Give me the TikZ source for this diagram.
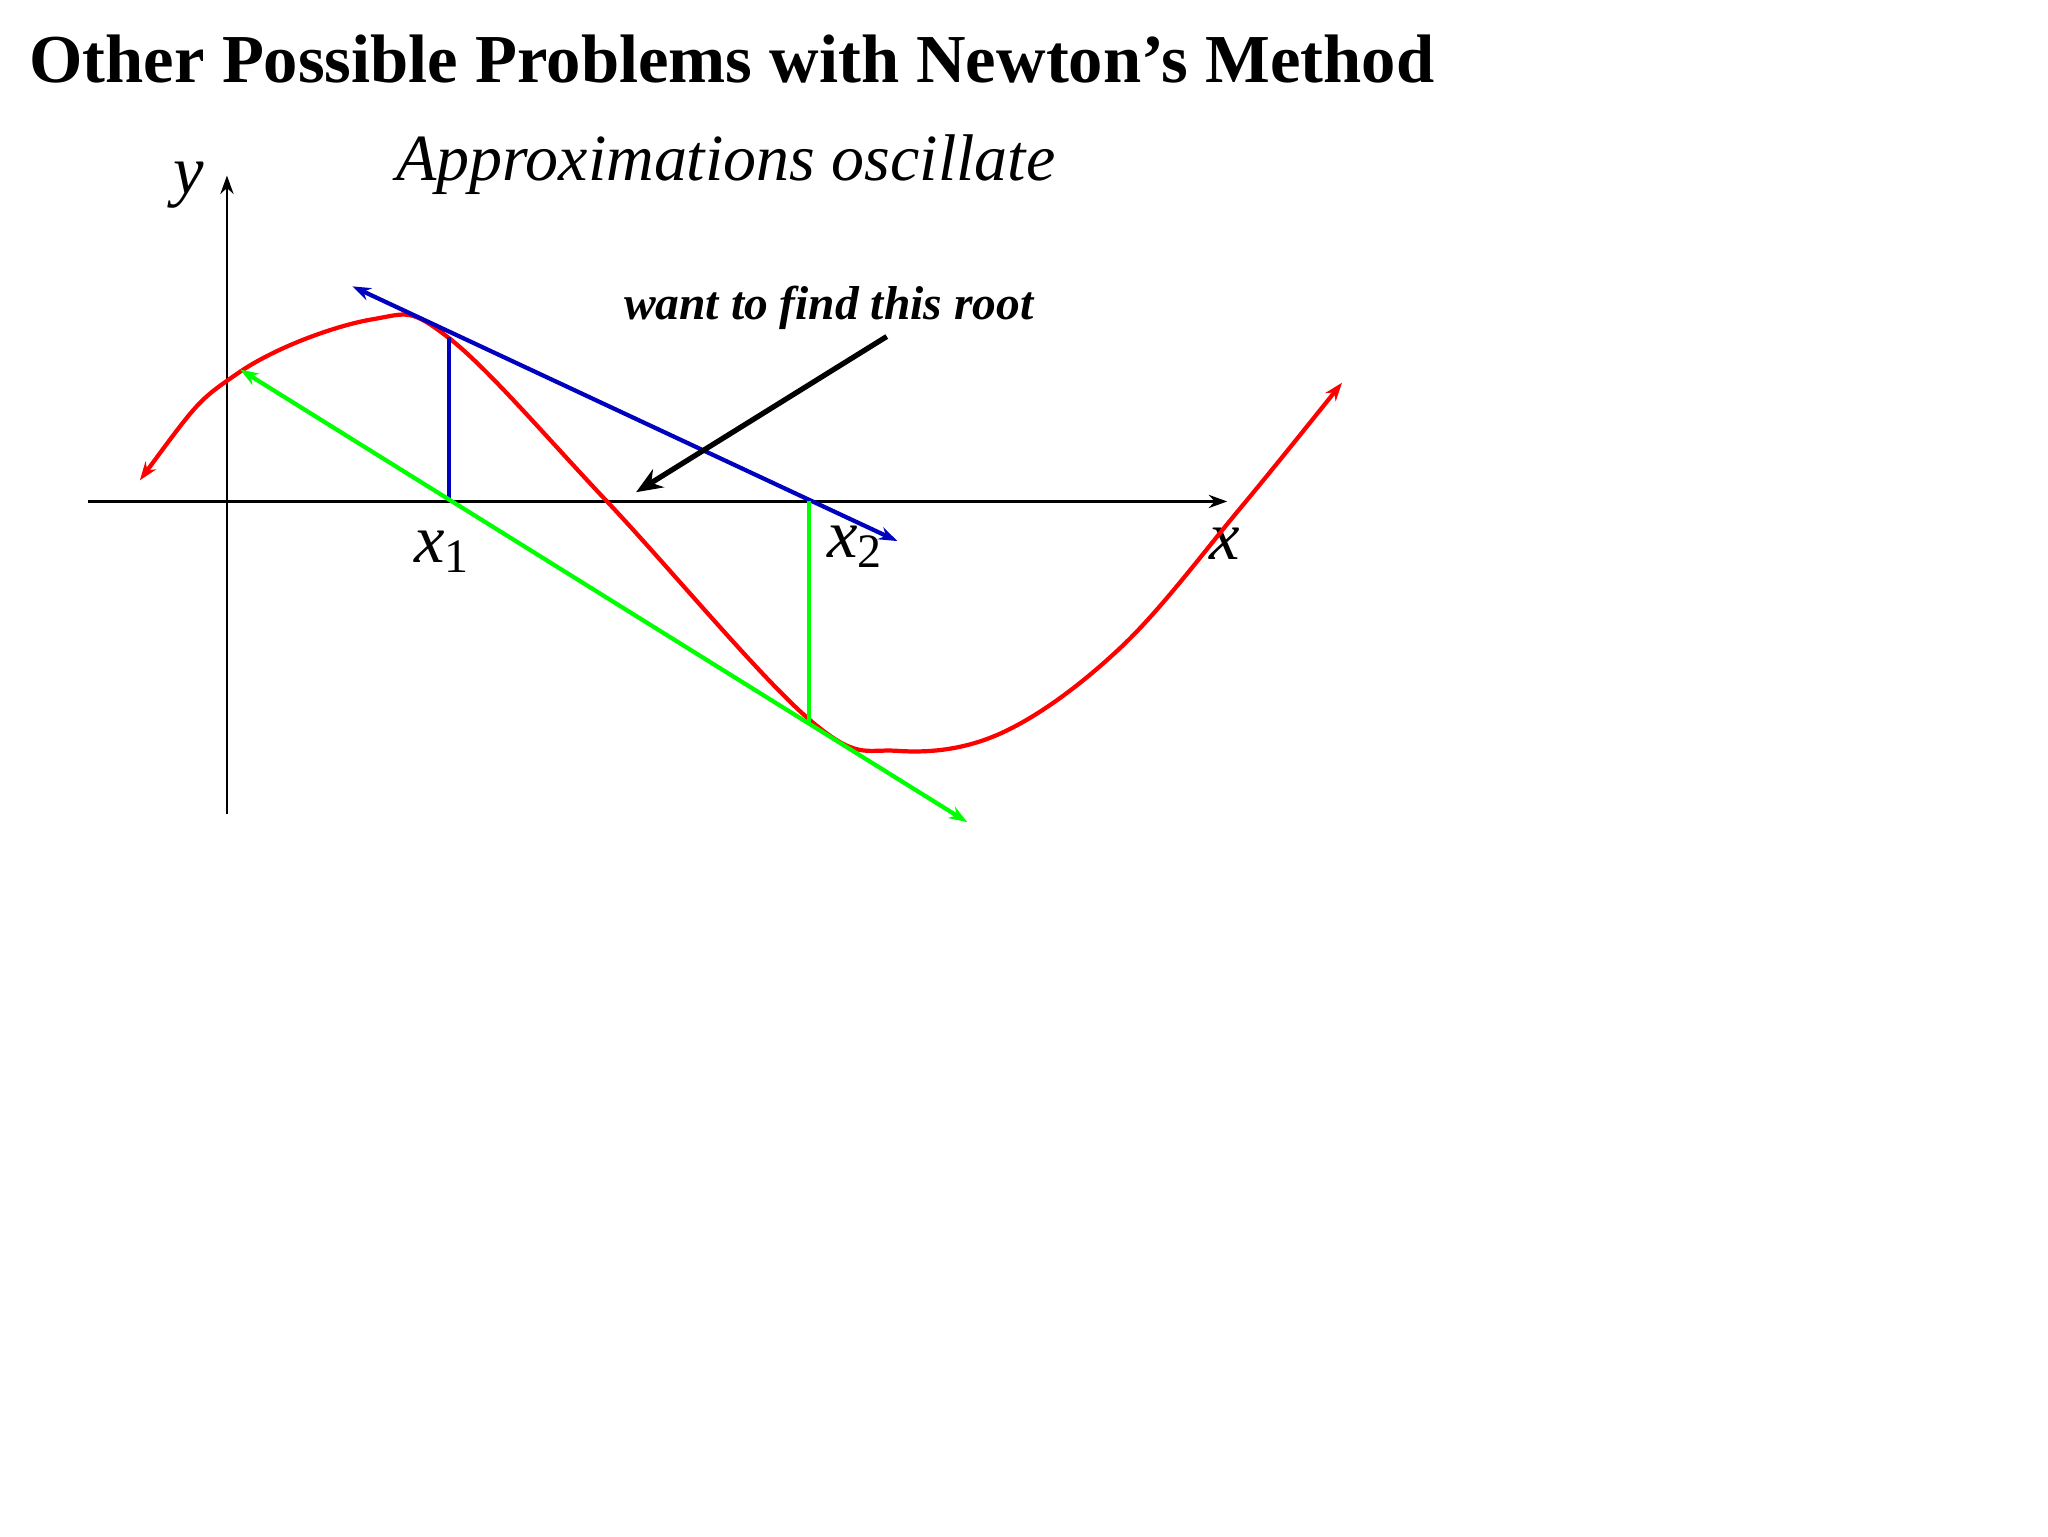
\documentclass[tikz,border=0pt]{standalone}
\usepackage{fontspec}
\setmainfont{Liberation Serif}
\usetikzlibrary{arrows.meta}
\begin{document}
\begin{tikzpicture}[x=0.5pt,y=-0.5pt,
  ln/.style={line width=1.6pt,-{Stealth[length=7pt,width=5pt]}},
  both/.style={line width=1.6pt,{Stealth[length=7pt,width=5pt]}-{Stealth[length=7pt,width=5pt]}},
  lbl/.style={font=\fontsize{26}{30}\selectfont\itshape, inner sep=0pt}]
\useasboundingbox (0,0) rectangle (1552,1164);
\fill[white] (0,0) rectangle (1552,1164);
\node[anchor=west,inner sep=0pt,font=\fontsize{26}{30}\selectfont\bfseries] (title) at (22,45) {Other Possible Problems with Newton’s Method};
\node[inner sep=0pt,font=\fontsize{25}{30}\selectfont\itshape] (sub) at (550,125) {Approximations oscillate};
\coordinate (yb) at (172,617); \coordinate (yt) at (172,133);
\coordinate (xl) at (67,380); \coordinate (xr) at (930,380);
\draw[line width=1pt,-{Stealth[length=7pt,width=5pt]}] (yb) -- (yt);
\draw[line width=1pt,-{Stealth[length=7pt,width=5pt]}] (xl) -- (xr);
\node[lbl] (ylab) at (143,140) {y};
\node[lbl] (xlab) at (928,412) {x};
\node[lbl] (x1) at (335,418) {x\textsubscript{\upshape 1}};
\node[lbl] (x2) at (648,414) {x\textsubscript{\upshape 2}};
\draw[red,both] plot[smooth,tension=0.6] coordinates {(106,364) (180,283) (282,242) (340,256) (460,380) (613,545) (680,569) (760,555) (850,490) (940,385) (1017,290)};
\coordinate (b1) at (267,217); \coordinate (b2) at (680,410);
\draw[blue!75!black,both] (b1) -- (b2);
\coordinate (p1) at (340,255); \coordinate (q1) at (340,380);
\draw[blue!75!black,line width=1.6pt] (p1) -- (q1);
\coordinate (g1) at (182,280); \coordinate (g2) at (733,623);
\draw[green,both] (g1) -- (g2);
\coordinate (p2) at (613,380); \coordinate (q2) at (613,547);
\draw[green,line width=1.6pt] (p2) -- (q2);
\node[inner sep=0pt,font=\fontsize{18}{22}\selectfont\bfseries\itshape] (want) at (628,233) {want to find this root};
\coordinate (a1) at (672,255); \coordinate (a2) at (482,373);
\draw[line width=2pt,-{Stealth[length=10pt,width=8pt]}] (a1) -- (a2);
\end{tikzpicture}
\end{document}
